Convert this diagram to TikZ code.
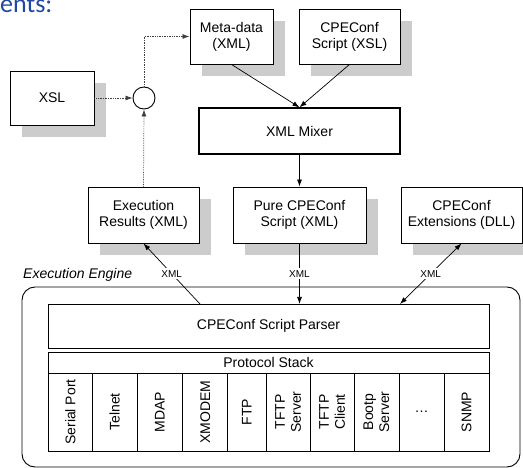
\documentclass[tikz,border=0pt]{standalone}
\usepackage{fontspec}
\setmainfont{Liberation Sans}
\newfontfamily\titlefont{Carlito}
\usepackage{xcolor}
\definecolor{titleblue}{RGB}{31,73,165}
\definecolor{shadowgray}{RGB}{204,204,204}
\usepackage{tikz}
\usetikzlibrary{shadows}
\usetikzlibrary{arrows.meta}
\newcommand{\boxfont}{\fontsize{14}{16}\selectfont}
\newcommand{\tagfont}{\fontsize{10}{11}\selectfont}
\tikzset{
    common/.style={draw, line width=0.9pt, fill=white, align=center, inner sep=2pt, font=\boxfont},
    shadowed/.style={common, drop shadow={shadow xshift=12pt, shadow yshift=-12pt, fill=shadowgray, opacity=1}},
    source/.style={shadowed, minimum height=55pt},
    result/.style={shadowed, minimum height=56pt},
    mixer/.style={common, line width=1.3pt, minimum width=201pt, minimum height=46pt},
    layer/.style={common, minimum width=441pt},
    cell/.style={common, rotate=90, minimum width=78pt},
    mergepoint/.style={draw, line width=0.9pt, fill=white, circle, minimum size=22pt, inner sep=0pt},
    engineframe/.style={draw, line width=0.9pt, rounded corners=13pt, minimum width=498pt, minimum height=180pt},
    flow/.style={-{Latex[length=7pt, width=5pt]}, line width=0.7pt},
    twoway/.style={{Latex[length=7pt, width=5pt]}-{Latex[length=7pt, width=5pt]}, line width=0.7pt},
    feedback/.style={flow, densely dotted, black!75},
    xml-tag/.style={fill=white, inner sep=2pt, font=\tagfont}
}

\begin{document}
\begin{tikzpicture}[x=1pt, y=-1pt]
      \useasboundingbox (0,0) rectangle (523,468);

      \node[anchor=base west, inner sep=0pt, text=titleblue, font=\titlefont\fontsize{26}{26}\selectfont] (title) at (0,13) {ents:};

      % xsl and the merge point
      \node[source, minimum width=84pt, minimum height=54pt] (xsl) at (52,98) {XSL};
      \node[mergepoint] (merge) at (144,98) {};

      % mixer and its inputs
      \node[source, minimum width=83pt] (meta) at (231.5,36.5) {Meta-data\\(XML)};
      \node[source, minimum width=101pt] (cpe-xsl) at (349.5,36.5) {CPEConf\\Script (XSL)};
      \node[mixer] (mixer) at (299.5,131) {XML Mixer};

      \node[result, minimum width=111pt] (results) at (143.5,215) {Execution\\Results (XML)};
      \node[result, minimum width=133pt] (pure) at (299.5,215) {Pure CPEConf\\Script (XML)};
      \node[result, minimum width=121pt] (ext) at (461.5,215) {CPEConf\\Extensions (DLL)};

      % execution engine
      \node[engineframe] (engine) at (271,377) {};
      \node[anchor=west, inner sep=0pt, font=\boxfont\itshape] (engine-name) at (23,275) {Execution Engine};
      \node[layer, minimum height=44pt] (parser) at (268.5,326) {CPEConf Script Parser};
      \node[layer, minimum height=21pt] (stack) at (268.5,362.5) {Protocol Stack};

      \path
          node[cell, minimum height=44pt] (serial) at (70.3,412) {Serial Port}
          node[cell, minimum height=44.7pt] (telnet) at (114.65,412) {Telnet}
          node[cell, minimum height=45.7pt] (mdap) at (159.85,412) {MDAP}
          node[cell, minimum height=45pt] (xmodem) at (205.2,412) {XMODEM}
          node[cell, minimum height=38.3pt] (ftp) at (246.85,412) {FTP}
          node[cell, minimum height=44.3pt] (tftp-server) at (288.15,412) {TFTP\\Server}
          node[cell, minimum height=43.7pt] (tftp-client) at (332.15,412) {TFTP\\Client}
          node[cell, minimum height=45pt] (bootp) at (376.5,412) {Bootp\\Server}
          node[common, minimum width=45.3pt, minimum height=78pt] (more) at (421.65,412) {\dots}
          node[cell, minimum height=44.7pt] (snmp) at (466.65,412) {SNMP};

      \coordinate (pin-results) at (200,304);
      \coordinate (pin-pure) at (299.5,304);
      \coordinate (pin-ext) at (400,304);

      \draw[feedback] (xsl) -- (merge);
      \draw[feedback] (results.north) -- (merge.south);
      \draw[feedback] (merge.north) |- (meta.west);

      \draw[flow] (meta.south) -- (mixer.north);
      \draw[flow] (cpe-xsl.south) -- (mixer.north);
      \draw[flow] (mixer.south) -- (pure.north);

      \draw[flow] (pin-results) -- node[xml-tag] {XML} (results.south);
      \draw[flow] (pure.south) -- node[xml-tag] {XML} (pin-pure);
      \draw[twoway] (ext.south) -- node[xml-tag] {XML} (pin-ext);
    \end{tikzpicture}
\end{document}
